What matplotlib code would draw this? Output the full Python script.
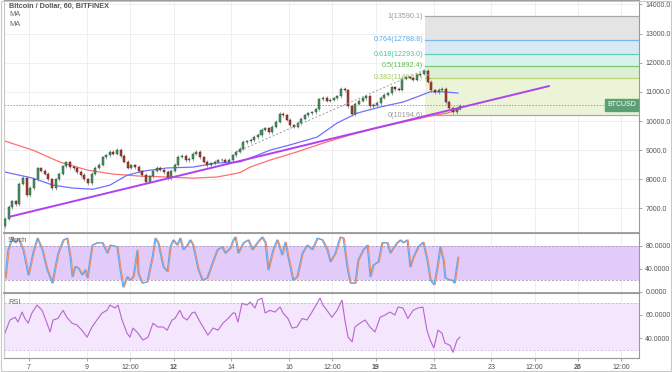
import matplotlib
matplotlib.use('Agg')
import matplotlib.pyplot as plt
from matplotlib.patches import Rectangle
import numpy as np

# ---------------- data ----------------
title = "Bitcoin / Dollar, 60, BITFINEX"
ma_labels = ["MA", "MA"]
symbol = "BTCUSD"

candle_start_day = 6.17
candle_step_day = 0.125          # 3-hour candles
first_open = 6400
closes = [6650, 7050, 7250, 7150, 7850, 8050, 7450, 7700, 8000, 8380,
          8300, 8200, 8000, 7700, 8000, 8200, 8450, 8580, 8420, 8380,
          8250, 8150, 8000, 7870, 8200, 8400, 8500, 8750, 8820, 8940,
          8880, 9020, 8800, 8600, 8400, 8480, 8420, 8280, 8150, 7920,
          8100, 8300, 8400, 8330, 8250, 8040, 8300, 8500, 8780, 8800,
          8650, 8700, 8880, 8950, 8750, 8600, 8480, 8550, 8600, 8650,
          8680, 8600, 8680, 8820, 8950, 9050, 9280, 9300, 9350, 9450,
          9520, 9700, 9750, 9620, 9800, 9980, 10250, 10200, 10050, 9850,
          9800, 9930, 10080, 10200, 10270, 10300, 10400, 10750, 10800, 10700,
          10730, 10780, 10850, 11100, 11050, 10500, 10230, 10600, 10700, 10780,
          10850, 10500, 10550, 10620, 10800, 10900, 10950, 11150, 11100, 11080,
          11450, 11500, 11480, 11420, 11580, 11620, 11720, 11350, 11050, 10980,
          11080, 11100, 10650, 10450, 10300, 10420, 10520]
wick = 55

ma_blue_days = [6.17, 7.14, 7.83, 8.52, 9.21, 9.80, 10.39, 10.94, 11.78, 12.67, 13.51,
                14.30, 14.65, 15.34, 16.03, 16.97, 17.66, 18.35, 19.15, 19.94, 20.43,
                20.88, 21.33, 21.84]
ma_blue = [8250, 8040, 7800, 7700, 7660, 7800, 8140, 8280, 8390, 8420, 8560,
           8600, 8730, 9000, 9180, 9450, 9930, 10270, 10480, 10650, 10830,
           11000, 11000, 10960]
ma_red_days = [6.17, 7.14, 8.07, 9.01, 9.91, 10.84, 11.78, 12.67, 13.51, 14.30,
               14.65, 15.34, 16.27, 17.17, 18.11, 19.04, 19.94, 20.88, 21.46, 21.91]
ma_red = [9310, 9000, 8590, 8320, 8180, 8110, 8080, 8040, 8080, 8230,
          8420, 8660, 8940, 9240, 9520, 9760, 9960, 10170, 10270, 10410]

trend_days = [6.34, 25.0]
trend_vals = [6720, 11200]
dotted_days = [14.2, 20.70, 20.98]
dotted_vals = [8950, 11760, 11250]
last_price = 10550

fib_start_day = 20.70
fib_names = ["0", "0.382", "0.5", "0.618", "0.764", "1"]
fib_levels = [10194.6, 11491.7, 11892.4, 12293.0, 12788.8, 13590.1]
fib_line_colors = ["#a8a8a8", "#b8d878", "#78c878", "#5fd3b3", "#7ab8e8", "#a8a8a8"]
fib_fill_colors = ["#ecf4d8", "#dcefd5", "#d8f1ea", "#d7e9f7", "#e4e4e4"]
fib_text_colors = ["#999999", "#a9c95a", "#66bb55", "#3fc9a3", "#5aa9e6", "#999999"]

stoch_days = [6.17, 6.27, 6.41, 6.52, 6.62, 6.79, 6.97, 7.14, 7.28, 7.45, 7.62, 7.80, 7.90,
              8.00, 8.18, 8.31, 8.42, 8.49, 8.59, 8.70, 8.83, 8.94, 9.01, 9.18, 9.35, 9.53,
              9.70, 9.80, 10.04, 10.15, 10.25, 10.39, 10.49, 10.60, 10.74, 10.77, 10.91,
              11.08, 11.26, 11.36, 11.46, 11.64, 11.78, 11.88, 11.98, 12.12, 12.22, 12.33,
              12.47, 12.57, 12.67, 12.85, 12.99, 13.16, 13.33, 13.51, 13.68, 13.78, 13.96,
              14.06, 14.13, 14.23, 14.41, 14.58, 14.72, 14.89, 15.06, 15.17, 15.27, 15.44,
              15.58, 15.75, 15.86, 15.96, 16.13, 16.27, 16.45, 16.62, 16.79, 16.97, 17.14,
              17.31, 17.42, 17.59, 17.76, 17.87, 18.00, 18.11, 18.28, 18.38, 18.56, 18.70,
              18.80, 18.90, 19.08, 19.21, 19.39, 19.49, 19.60, 19.73, 19.84, 19.94, 20.08,
              20.18, 20.29, 20.46, 20.63, 20.77, 20.88, 21.01, 21.12, 21.22, 21.33, 21.39,
              21.57, 21.64, 21.71, 21.84]
stoch_k = [24, 72, 95, 85, 93, 73, 29, 69, 93, 73, 38, 15, 43,
           67, 90, 93, 60, 26, 44, 41, 29, 38, 24, 81, 85, 85,
           67, 81, 78, 38, 8, 26, 20, 26, 72, 32, 15,
           17, 60, 93, 85, 43, 35, 78, 90, 81, 93, 73,
           81, 90, 81, 38, 20, 24, 49, 73, 78, 67, 76,
           90, 95, 67, 85, 90, 73, 85, 95, 85, 38, 73,
           90, 64, 86, 60, 20, 26, 67, 81, 73, 93, 90,
           73, 52, 67, 95, 93, 43, 15, 15, 55, 73, 81,
           26, 46, 52, 85, 85, 67, 76, 85, 90, 85, 90,
           43, 60, 78, 86, 55, 20, 12, 43, 78, 55, 24,
           20, 20, 15, 60]

rsi_days = [6.17, 6.34, 6.52, 6.62, 6.76, 6.86, 6.97, 7.10, 7.28, 7.45, 7.55, 7.73, 7.83,
            8.00, 8.18, 8.31, 8.49, 8.66, 8.83, 9.01, 9.18, 9.35, 9.53, 9.70, 9.80, 9.98,
            10.08, 10.22, 10.39, 10.49, 10.60, 10.77, 10.94, 11.12, 11.29, 11.46, 11.64,
            11.78, 11.95, 12.05, 12.22, 12.33, 12.47, 12.64, 12.74, 12.92, 13.09, 13.19,
            13.37, 13.54, 13.71, 13.89, 14.06, 14.13, 14.23, 14.37, 14.54, 14.65, 14.82,
            14.92, 15.06, 15.17, 15.34, 15.51, 15.69, 15.79, 15.96, 16.10, 16.27, 16.45,
            16.62, 16.79, 16.97, 17.07, 17.17, 17.31, 17.48, 17.66, 17.83, 17.93, 18.04,
            18.18, 18.28, 18.45, 18.63, 18.80, 18.97, 19.15, 19.32, 19.49, 19.66, 19.77,
            19.94, 20.11, 20.29, 20.46, 20.63, 20.77, 20.88, 21.01, 21.15, 21.29, 21.39,
            21.57, 21.67, 21.81, 21.91]
rsi = [44.5, 55.7, 58, 54, 62.5, 57, 53, 61.7, 68.5, 64, 58, 45.4, 55.7,
       57, 64, 58, 53, 51.4, 47, 41, 49.7, 55.7, 61.7, 64, 68.5, 66,
       68.5, 55.7, 44.5, 41, 48.8, 44.5, 38.5, 41, 53, 49.7, 49.7,
       47, 55.7, 57, 64, 58, 55.7, 61.7, 62.5, 54, 47, 42.8,
       48.8, 47, 53, 57, 61.7, 61.7, 54, 70, 68.5, 71, 66,
       72.8, 74.5, 61.7, 64, 62.5, 66.8, 61.7, 57, 48.8, 49.7, 57,
       55.7, 62.5, 70, 74.5, 68.5, 64, 58, 64, 72.8, 55.7, 41,
       37, 49.7, 53, 55.7, 49.7, 45.4, 58, 60, 62.5, 60, 66.8,
       66, 57, 64, 66, 66.8, 47, 38.5, 31.7, 47, 44.5, 36,
       34, 28, 38.5, 41]

price_ticks = [7000, 8000, 9000, 10000, 11000, 12000, 13000, 14000]
stoch_ticks = [0, 40, 80]
rsi_ticks = [40, 60]
date_ticks = [7, 9, 10.5, 12, 14, 16, 17.5, 19, 21, 23, 24.5, 26, 27.5]
date_labels = ["7", "9", "12:00", "12", "14", "16", "12:00", "19", "21", "23", "12:00", "26", "12:00"]
bold_labels = ["12", "19", "26"]

# ---------------- figure ----------------
W, H = 672, 372
fig = plt.figure(figsize=(W / 100, H / 100), dpi=100)
fig.patch.set_facecolor('white')

def fx(px):
    return px / W

def fy(py):
    return 1 - py / H

left, right = 4, 639
ax = fig.add_axes([fx(left), fy(232.7), fx(right - left), 232.7 / H])
ax_s = fig.add_axes([fx(left), fy(292.7), fx(right - left), 60 / H])
ax_r = fig.add_axes([fx(left), fy(357.7), fx(right - left), 65 / H])

xlim = (6.135, 28.107)
grid_c = '#ededed'
axis_c = '#9a9a9a'
lab_c = '#555555'
small_font = ['Liberation Sans', 'DejaVu Sans']

for a in (ax, ax_s, ax_r):
    a.set_xlim(*xlim)
    a.set_xticks(date_ticks)
    for d in date_ticks:
        a.axvline(d, color=grid_c, lw=0.6, zorder=0)
    a.yaxis.tick_right()
    a.tick_params(axis='y', length=2.5, width=0.6, color=axis_c, labelsize=5.0,
                  labelcolor=lab_c, pad=2)
    a.tick_params(axis='x', length=2.5, width=0.6, color=axis_c, labelsize=5.0,
                  labelcolor=lab_c, pad=2)
    for s in a.spines.values():
        s.set_color(axis_c)
        s.set_linewidth(0.8)
    a.spines['left'].set_color('#c8c8c8')
    for t in a.get_yticklabels() + a.get_xticklabels():
        t.set_family(small_font)

ax.tick_params(axis='x', labelbottom=False, length=0)
ax_s.tick_params(axis='x', labelbottom=False, length=0)
ax_r.set_xticklabels(date_labels, family=small_font)
for t in ax_r.get_xticklabels():
    if t.get_text() in bold_labels:
        t.set_fontweight('bold')

# ---- main panel ----
ax.set_ylim(6170, 14150)
ax.set_yticks(price_ticks)
ax.set_yticklabels([f"{v:.1f}" for v in price_ticks], family=small_font)
for v in price_ticks:
    ax.axhline(v, color=grid_c, lw=0.6, zorder=0)

# Fibonacci retracement
for i in range(len(fib_levels) - 1):
    ax.fill_between([fib_start_day, xlim[1]], fib_levels[i], fib_levels[i + 1],
                    color=fib_fill_colors[i], lw=0, zorder=1)
for name, lev, lc, tc in zip(fib_names, fib_levels, fib_line_colors, fib_text_colors):
    ax.plot([fib_start_day, xlim[1]], [lev, lev], color=lc, lw=0.9, zorder=1.5)
    ax.text(fib_start_day - 0.06, lev, f"{name}({lev:.1f})", color=tc, fontsize=5.2,
            family=small_font, ha='right', va='center', zorder=1.6)

# last price line
ax.axhline(last_price, color='#a0a0a0', lw=0.7, ls=(0, (1.5, 1.5)), zorder=1.7)

# moving averages
ax.plot(ma_red_days, ma_red, color='#ff6f6f', lw=0.9, zorder=2)
ax.plot(ma_blue_days, ma_blue, color='#6f6fff', lw=0.9, zorder=2)

# candles
n = len(closes)
days = candle_start_day + candle_step_day * np.arange(n)
opens = np.array([first_open] + closes[:-1], dtype=float)
cl = np.array(closes, dtype=float)
hi = np.maximum(opens, cl) + wick
lo = np.minimum(opens, cl) - wick
up = cl >= opens
ax.vlines(days, lo, hi, color='#808080', lw=0.5, zorder=3)
ax.bar(days[up], (cl - opens)[up], bottom=opens[up], width=0.07,
       color='#4a9360', edgecolor='#225437', lw=0.35, zorder=3.5)
ax.bar(days[~up], (opens - cl)[~up], bottom=cl[~up], width=0.07,
       color='#a83e34', edgecolor='#5b1a13', lw=0.35, zorder=3.5)

# dotted fib trend line
ax.plot(dotted_days, dotted_vals, color='#9a9a9a', lw=0.7, ls=(0, (2, 2)), zorder=4)

# purple trend line
ax.plot(trend_days, trend_vals, color='#b040f0', lw=1.4, zorder=5, solid_capstyle='round')

# BTCUSD label
ax.annotate(symbol, xy=(0.995, last_price), xycoords=('axes fraction', 'data'),
            ha='right', va='center', fontsize=5.0, family=small_font, color='white', zorder=6,
            bbox=dict(boxstyle='square,pad=0.3', fc='#5b9f75', ec='#5b9f75'))

# ---- stochastic ----
ax_s.set_ylim(-1.7, 102.6)
ax_s.set_yticks(stoch_ticks)
ax_s.set_yticklabels([f"{v:.4f}" for v in stoch_ticks], family=small_font)
ax_s.axhline(40, color=grid_c, lw=0.6, zorder=0)
ax_s.axhspan(20, 80, color='#e2cbf9', lw=0, zorder=0.5)
for v in (20, 80):
    ax_s.axhline(v, color='#a895b8', lw=0.6, ls=(0, (2.5, 2)), zorder=1)
ax_s.plot(np.array(stoch_days) + 0.04, stoch_k, color='#f08a5d', lw=0.8, zorder=2)
ax_s.plot(stoch_days, stoch_k, color='#5fa8f0', lw=0.8, zorder=2.5)

# ---- RSI ----
ax_r.set_ylim(23.4, 79.1)
ax_r.set_yticks(rsi_ticks)
ax_r.set_yticklabels([f"{v:.4f}" for v in rsi_ticks], family=small_font)
for v in rsi_ticks:
    ax_r.axhline(v, color=grid_c, lw=0.6, zorder=0)
ax_r.axhspan(30, 70, color='#f4e6fd', lw=0, zorder=0.5)
for v in (30, 70):
    ax_r.axhline(v, color='#c9b3d9', lw=0.6, ls=(0, (2.5, 2)), zorder=1)
ax_r.plot(rsi_days, rsi, color='#b765cf', lw=0.8, zorder=2)

# panel separators
for a in (ax, ax_s):
    a.spines['bottom'].set_linewidth(1.3)
    a.spines['bottom'].set_color('#9a9a9a')

# texts
fig.text(fx(9), fy(6), title, fontsize=5.2, fontweight='bold', family=small_font,
         color='#555555', va='center')
fig.text(fx(9), fy(14.7), ma_labels[0], fontsize=5.4, family=small_font, color='#666666', va='center')
fig.text(fx(9), fy(24.7), ma_labels[1], fontsize=5.4, family=small_font, color='#666666', va='center')
fig.text(fx(8), fy(241), "Stoch", fontsize=5.4, family=small_font, color='#666666', va='center')
fig.text(fx(8), fy(302), "RSI", fontsize=5.4, family=small_font, color='#666666', va='center')

# outer frame
fig.patches.append(Rectangle((0.001, 0.002), 0.997, 0.996, transform=fig.transFigure,
                             fill=False, ec='#c8c8c8', lw=0.8))

fig.savefig('out.png', dpi=100)
